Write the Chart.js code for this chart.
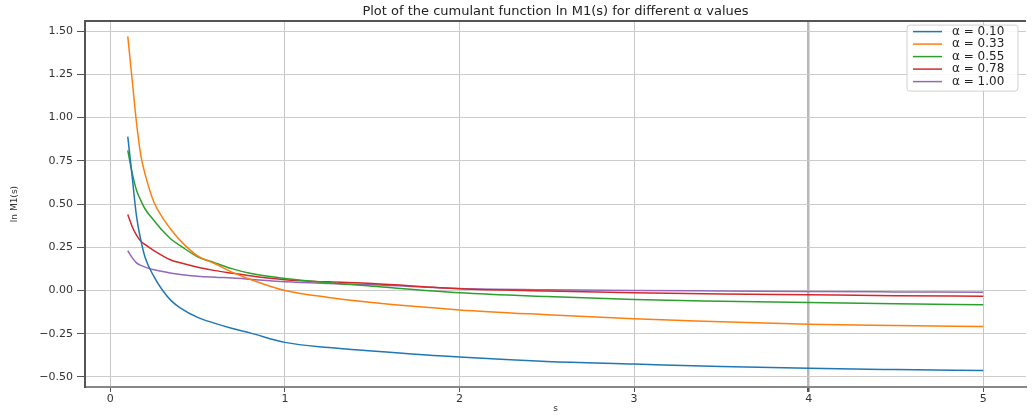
<!DOCTYPE html>
<html>
<head>
<meta charset="utf-8">
<script src="https://cdn.jsdelivr.net/npm/chart.js@4/dist/chart.umd.min.js"></script>
<style>
  html, body { margin: 0; padding: 0; background: #fff; }
  #wrap { width: 1034px; height: 415px; }
</style>
</head>
<body>
<div id="wrap"><canvas id="cumulant"></canvas></div>
<script>
// s grid the curves were read at
const sValues = [0.1, 0.125, 0.15, 0.175, 0.2, 0.25, 0.3, 0.35, 0.4, 0.5, 0.6, 0.7, 0.8,
                 1.0, 1.25, 1.5, 2.0, 2.5, 3.0, 3.5, 4.0, 4.5, 5.0];

const alphaLabels = ['α = 0.10', 'α = 0.33', 'α = 0.55', 'α = 0.78', 'α = 1.00'];

// ln M1(s), one array per alpha
const lnM1_a010 = [0.89, 0.66, 0.43, 0.29, 0.19, 0.08, 0.00, -0.06, -0.10, -0.155, -0.19, -0.22, -0.245,
                   -0.30, -0.33, -0.35, -0.385, -0.41, -0.425, -0.44, -0.45, -0.457, -0.463];
const lnM1_a033 = [1.47, 1.22, 0.97, 0.78, 0.67, 0.51, 0.42, 0.35, 0.29, 0.20, 0.155, 0.105, 0.065,
                   0.00, -0.04, -0.07, -0.112, -0.14, -0.164, -0.18, -0.195, -0.202, -0.208];
const lnM1_a055 = [0.81, 0.68, 0.58, 0.52, 0.47, 0.405, 0.345, 0.295, 0.26, 0.195, 0.16, 0.125, 0.10,
                   0.07, 0.045, 0.025, -0.013, -0.035, -0.052, -0.062, -0.07, -0.077, -0.083];
const lnM1_a078 = [0.44, 0.37, 0.32, 0.285, 0.265, 0.23, 0.20, 0.175, 0.16, 0.135, 0.115, 0.10, 0.085,
                   0.062, 0.05, 0.04, 0.01, -0.003, -0.013, -0.02, -0.025, -0.03, -0.033];
const lnM1_a100 = [0.23, 0.19, 0.16, 0.145, 0.135, 0.12, 0.11, 0.10, 0.093, 0.083, 0.077, 0.072, 0.065,
                   0.05, 0.04, 0.033, 0.012, 0.005, 0.0, -0.003, -0.006, -0.008, -0.01];

const xTicks = [0, 1, 2, 3, 4, 5];
const yTicks = [-0.5, -0.25, 0, 0.25, 0.5, 0.75, 1.0, 1.25, 1.5];
const xLimits = [-0.145, 5.245];
const yLimits = [-0.558, 1.558];

const COLORS = ['#1f77b4', '#ff7f0e', '#2ca02c', '#d62728', '#9467bd'];
const FONT = 'DejaVu Sans';

const series = [lnM1_a010, lnM1_a033, lnM1_a055, lnM1_a078, lnM1_a100];

const datasets = series.map((vals, i) => ({
  label: alphaLabels[i],
  data: sValues.map((s, j) => ({ x: s, y: vals[j] })),
  borderColor: COLORS[i],
  backgroundColor: COLORS[i],
  borderWidth: 1.5,
  pointRadius: 0,
  fill: false,
  cubicInterpolationMode: 'monotone'
}));

// top spine + matplotlib style legend box inside the axes
const frameAndLegend = {
  id: 'frameAndLegend',
  afterDatasetsDraw(chart) {
    const { ctx, chartArea } = chart;
    ctx.save();
    ctx.strokeStyle = '#555';
    ctx.lineWidth = 2;
    ctx.beginPath();
    ctx.moveTo(chartArea.left, chartArea.top);
    ctx.lineTo(chartArea.right, chartArea.top);
    ctx.stroke();
    ctx.restore();
  },
  afterDraw(chart) {
    const { ctx, chartArea } = chart;
    const sets = chart.data.datasets;
    const rowH = 12.5;
    const w = 111, h = 66;
    const left = chartArea.right - 8 - w;
    const top = chartArea.top + 4;

    ctx.save();
    ctx.fillStyle = 'rgba(255,255,255,0.85)';
    ctx.strokeStyle = '#d0d0d0';
    ctx.lineWidth = 1;
    ctx.beginPath();
    ctx.roundRect(left, top, w, h, 3);
    ctx.fill();
    ctx.stroke();

    ctx.font = '12px "' + FONT + '"';
    ctx.textBaseline = 'middle';
    ctx.textAlign = 'left';
    sets.forEach((ds, i) => {
      const y = top + 6.5 + i * rowH;
      ctx.strokeStyle = ds.borderColor;
      ctx.lineWidth = 1.5;
      ctx.beginPath();
      ctx.moveTo(left + 6, y);
      ctx.lineTo(left + 35, y);
      ctx.stroke();
      ctx.fillStyle = '#222';
      ctx.fillText(ds.label, left + 45, y);
    });
    ctx.restore();
  }
};

new Chart(document.getElementById('cumulant'), {
  type: 'line',
  data: { datasets: datasets },
  options: {
    responsive: true,
    maintainAspectRatio: false,
    animation: false,
    layout: { padding: { left: 0, right: 8, top: 0, bottom: 0 } },
    plugins: {
      legend: { display: false },
      tooltip: { enabled: false },
      title: {
        display: true,
        fullSize: false,
        text: 'Plot of the cumulant function ln M1(s) for different α values',
        color: '#222',
        font: { family: FONT, size: 13, weight: 'normal' },
        padding: { top: 3.5, bottom: 2 }
      }
    },
    scales: {
      x: {
        type: 'linear',
        min: xLimits[0],
        max: xLimits[1],
        afterBuildTicks: axis => { axis.ticks = xTicks.map(v => ({ value: v })); },
        afterFit: axis => { axis.height = 28; },
        ticks: {
          color: '#333',
          font: { family: FONT, size: 11 },
          padding: 1,
          maxRotation: 0,
          callback: v => String(v)
        },
        grid: {
          color: ctx => (ctx.tick && ctx.tick.value === 4) ? '#b8b8b8' : '#c6c6c6',
          lineWidth: ctx => (ctx.tick && ctx.tick.value === 4) ? 2.5 : 1,
          tickColor: '#555',
          tickLength: 5
        },
        border: { display: true, color: '#888', width: 2 },
        title: {
          display: true,
          text: 's',
          color: '#333',
          font: { family: FONT, size: 9 },
          padding: { top: 0, bottom: 1 }
        }
      },
      y: {
        type: 'linear',
        min: yLimits[0],
        max: yLimits[1],
        afterBuildTicks: axis => { axis.ticks = yTicks.map(v => ({ value: v })); },
        afterFit: axis => { axis.width = 85; },
        ticks: {
          color: '#333',
          font: { family: FONT, size: 11 },
          padding: 4,
          callback: v => v.toFixed(2).replace('-', '\u2212')
        },
        grid: {
          color: '#cccccc',
          lineWidth: 1,
          tickColor: '#555',
          tickLength: 8
        },
        border: { display: true, color: '#555', width: 2 },
        title: {
          display: true,
          text: 'ln M1(s)',
          color: '#333',
          font: { family: FONT, size: 9 },
          padding: { top: 9, bottom: 0 }
        }
      }
    }
  },
  plugins: [frameAndLegend]
});
</script>
</body>
</html>
